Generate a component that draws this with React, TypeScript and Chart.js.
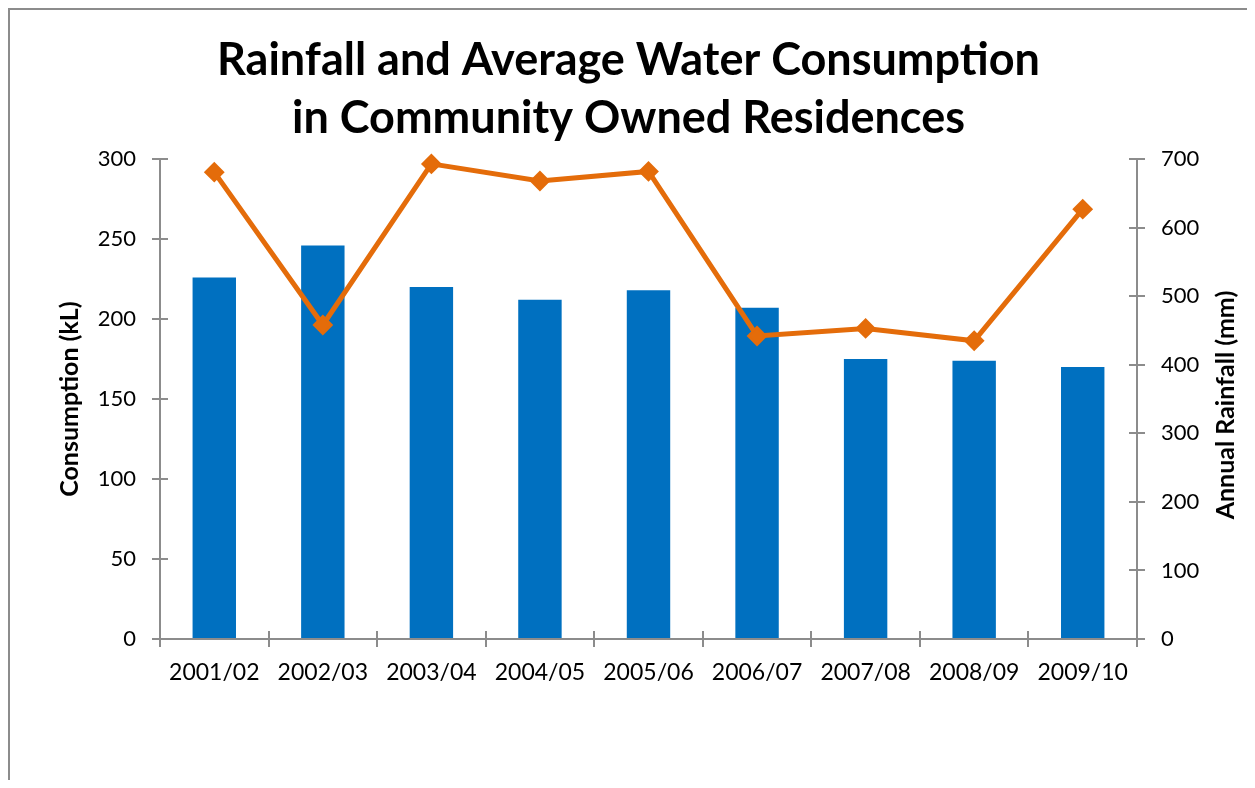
import React, { useEffect, useRef } from "react";
import { Chart, registerables } from "chart.js";

Chart.register(...registerables);

const categories = ["2001/02", "2002/03", "2003/04", "2004/05", "2005/06", "2006/07", "2007/08", "2008/09", "2009/10"];
const consumption = [226, 246, 220, 212, 218, 207, 175, 174, 170];
const rainfall = [681, 458, 693, 668, 682, 442, 453, 435, 627];
const titleLines = ["Rainfall and Average Water Consumption", "in Community Owned Residences"];
const leftAxisTitle = "Consumption (kL)";
const rightAxisTitle = "Annual Rainfall (mm)";
const leftTicks = { min: 0, max: 300, step: 50 };
const rightTicks = { min: 0, max: 700, step: 100 };

const FONT = "Lato, 'Open Sans', sans-serif";
const AXIS_GRAY = "#8c8c8c";
const BAR_BLUE = "#0070C0";
const LINE_ORANGE = "#E46C0A";

const innerTicksPlugin = {
  id: "innerTicks",
  afterDatasetsDraw(chart: any) {
    const ctx = chart.ctx;
    const { x, y, y1 } = chart.scales;
    ctx.save();
    ctx.strokeStyle = AXIS_GRAY;
    ctx.lineWidth = 2;
    ctx.beginPath();
    for (let i = 0; i <= categories.length; i++) {
      const px = Math.round(x.getPixelForValue(i - 0.5));
      ctx.moveTo(px, x.top);
      ctx.lineTo(px, x.top - 8);
    }
    y.ticks.forEach((_t: any, i: number) => {
      const py = Math.round(y.getPixelForTick(i));
      ctx.moveTo(y.right, py);
      ctx.lineTo(y.right + 8, py);
    });
    y1.ticks.forEach((_t: any, i: number) => {
      const py = Math.round(y1.getPixelForTick(i));
      ctx.moveTo(y1.left, py);
      ctx.lineTo(y1.left - 8, py);
    });
    ctx.stroke();
    ctx.restore();
  },
  afterDraw(chart: any) {
    const ctx = chart.ctx;
    const area = chart.chartArea;
    const y1 = chart.scales.y1;
    ctx.save();
    ctx.fillStyle = "#000";
    ctx.font = `bold 25px ${FONT}`;
    ctx.textAlign = "center";
    ctx.textBaseline = "middle";
    ctx.translate(y1.right - 21, (area.top + area.bottom) / 2 + 6);
    ctx.rotate(-Math.PI / 2);
    ctx.fillText(rightAxisTitle, 0, 0);
    ctx.restore();
  },
};

export default function App() {
  const ref = useRef<HTMLCanvasElement>(null);

  useEffect(() => {
    if (!ref.current) return;
    const chart = new Chart(ref.current, {
      type: "bar",
      data: {
        labels: categories,
        datasets: [
          {
            type: "line",
            label: "Annual Rainfall (mm)",
            data: rainfall,
            yAxisID: "y1",
            borderColor: LINE_ORANGE,
            backgroundColor: LINE_ORANGE,
            borderWidth: 5,
            pointStyle: "rectRot",
            pointRadius: 9,
            pointBorderWidth: 2,
            pointBackgroundColor: LINE_ORANGE,
            pointBorderColor: LINE_ORANGE,
            tension: 0,
            clip: false,
            order: 0,
          } as any,
          {
            type: "bar",
            label: "Consumption (kL)",
            data: consumption,
            yAxisID: "y",
            backgroundColor: BAR_BLUE,
            borderWidth: 0,
            barPercentage: 0.4,
            categoryPercentage: 1,
            order: 1,
          },
        ],
      },
      options: {
        responsive: false,
        animation: false,
        layout: { padding: 0 },
        plugins: {
          legend: { display: false },
          tooltip: { enabled: false },
          title: {
            display: true,
            text: titleLines,
            color: "#000",
            font: { family: FONT, size: 45, weight: "bold", lineHeight: 1.29 },
            padding: { top: 21, bottom: 12 },
          },
        },
        scales: {
          x: {
            type: "category",
            offset: true,
            grid: {
              offset: true,
              drawOnChartArea: false,
              tickLength: 8,
              color: AXIS_GRAY,
              lineWidth: 2,
            },
            border: { color: AXIS_GRAY, width: 2 },
            ticks: { color: "#000", font: { family: FONT, size: 23 }, padding: 12, maxRotation: 0, autoSkip: false },
            afterFit: (s: any) => { s.height = 141; },
          },
          y: {
            position: "left",
            min: leftTicks.min,
            max: leftTicks.max,
            grid: { drawOnChartArea: false, tickLength: 8, color: AXIS_GRAY, lineWidth: 2 },
            border: { color: AXIS_GRAY, width: 2 },
            ticks: { stepSize: leftTicks.step, color: "#000", font: { family: FONT, size: 22 }, padding: 16 },
            title: {
              display: true,
              text: leftAxisTitle,
              color: "#000",
              font: { family: FONT, size: 25, weight: "bold" },
              padding: { top: 45, bottom: 0 },
            },
            afterFit: (s: any) => { s.width = 150; },
          },
          y1: {
            position: "right",
            min: rightTicks.min,
            max: rightTicks.max,
            grid: { drawOnChartArea: false, tickLength: 8, color: AXIS_GRAY, lineWidth: 2 },
            border: { color: AXIS_GRAY, width: 2 },
            ticks: { stepSize: rightTicks.step, color: "#000", font: { family: FONT, size: 22 }, padding: 16 },
            afterFit: (s: any) => { s.width = 110; },
          },
        },
      },
      plugins: [innerTicksPlugin],
    });
    return () => chart.destroy();
  }, []);

  return (
    <div
      style={{
        width: 1239,
        height: 772,
        borderTop: "2px solid #8c8c8c",
        borderLeft: "2px solid #8c8c8c",
        boxSizing: "border-box",
        background: "#fff",
      }}
    >
      <canvas ref={ref} width={1237} height={770} style={{ display: "block" }} />
    </div>
  );
}
